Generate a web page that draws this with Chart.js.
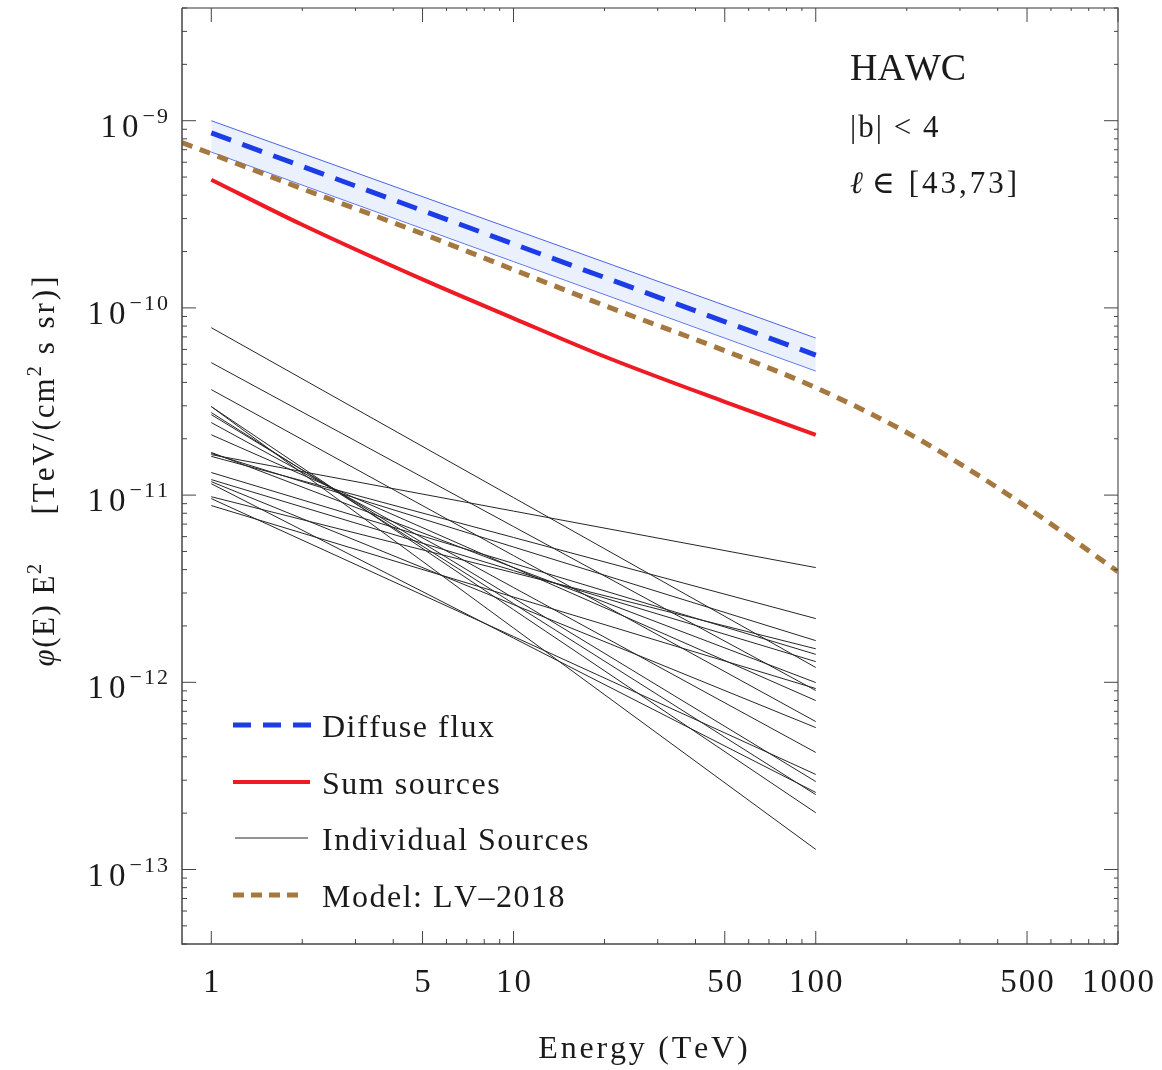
<!DOCTYPE html>
<html lang="en">
<head>
    <meta charset="UTF-8">
    <title>HAWC diffuse flux vs sources</title>
    <script src="https://cdn.jsdelivr.net/npm/chart.js"></script>
    <style>
        body {
            margin: 0;
            background: #ffffff;
            overflow: hidden;
        }
        .chart-wrapper {
            width: 1162px;
            height: 1070px;
        }
    </style>
</head>
<body>
<div class="chart-wrapper">
    <canvas id="fluxChart"></canvas>
</div>
<script>
// energies in TeV, fluxes are E^2 phi(E) in TeV/(cm^2 s sr)
const diffuseEnergy = [1, 100];
const diffuseFlux = [8.6e-10, 5.6e-11];
const diffuseUpper = [1.0e-9, 6.9e-11];
const diffuseLower = [6.8e-10, 4.6e-11];

const sumEnergy = [1, 2, 5, 10, 20, 50, 100];
const sumFlux = [4.84e-10, 2.78e-10, 1.42e-10, 8.8e-11, 5.5e-11, 3.15e-11, 2.1e-11];

const modelEnergy = [0.8, 1, 2, 5, 10, 20, 50, 100, 200, 300, 500, 1000];
const modelFlux = [7.63e-10, 6.66e-10, 4.33e-10, 2.49e-10, 1.6e-10, 1.03e-10, 5.91e-11, 3.75e-11, 2.16e-11, 1.47e-11, 8.6e-12, 3.9e-12];

// individual sources: power laws from 1 TeV to 100 TeV
const sourceEnergy = [1, 100];
const sourceFlux1TeV = [
    7.84e-11, 5.10e-11, 3.66e-11, 2.97e-11, 2.97e-11, 2.76e-11, 2.69e-11, 2.44e-11, 2.10e-11, 1.69e-11,
    1.67e-11, 1.645e-11, 1.61e-11, 1.32e-11, 1.21e-11, 1.18e-11, 1.15e-11, 9.8e-12, 9.58e-12, 8.79e-12
];
const sourceFlux100TeV = [
    1.20e-12, 9.04e-13, 6.17e-13, 1.28e-13, 2.01e-13, 2.51e-13, 2.95e-13, 4.22e-13, 7.99e-13, 9.97e-13,
    1.67e-12, 4.10e-12, 2.19e-12, 1.41e-12, 1.29e-12, 5.73e-13, 2.58e-13, 1.51e-12, 3.22e-13, 9.26e-13
];

const xTickLabels = [1, 5, 10, 50, 100, 500, 1000];
const yTickExponents = [-9, -10, -11, -12, -13];

const legendItems = ['Diffuse flux', 'Sum sources', 'Individual Sources', 'Model: LV\u20132018'];

const BLUE = '#1c3ce6';
const RED = '#ee1b24';
const BROWN = '#a57840';
const SERIF = '"Liberation Serif", "DejaVu Serif", serif';

function toPoints(xs, ys) {
    return xs.map((x, i) => ({ x: x, y: ys[i] }));
}

const datasets = [
    {
        label: 'Model: LV-2018',
        data: toPoints(modelEnergy, modelFlux),
        borderColor: BROWN,
        borderWidth: 5,
        borderDash: [11, 8],
        cubicInterpolationMode: 'monotone',
        order: 0
    },
    {
        label: 'Diffuse flux',
        data: toPoints(diffuseEnergy, diffuseFlux),
        borderColor: BLUE,
        borderWidth: 5,
        borderDash: [21, 12],
        order: 1
    },
    {
        label: 'Diffuse upper',
        data: toPoints(diffuseEnergy, diffuseUpper),
        borderColor: '#4a62e8',
        borderWidth: 1,
        backgroundColor: 'rgba(205,218,250,0.4)',
        fill: '+1',
        order: 2
    },
    {
        label: 'Diffuse lower',
        data: toPoints(diffuseEnergy, diffuseLower),
        borderColor: '#4a62e8',
        borderWidth: 1,
        order: 3
    },
    {
        label: 'Sum sources',
        data: toPoints(sumEnergy, sumFlux),
        borderColor: RED,
        borderWidth: 4,
        cubicInterpolationMode: 'monotone',
        order: 4
    }
];

sourceFlux1TeV.forEach((f, i) => {
    datasets.push({
        label: 'source ' + (i + 1),
        data: toPoints(sourceEnergy, [f, sourceFlux100TeV[i]]),
        borderColor: '#262626',
        borderWidth: 1,
        order: 5 + i
    });
});

// draw text one glyph at a time so the wide spacing can be set
function spacedText(ctx, str, x, y, spacing, align) {
    const chars = Array.from(str);
    const widths = chars.map(c => ctx.measureText(c).width);
    const total = widths.reduce((a, b) => a + b, 0) + spacing * (chars.length - 1);
    let cx = x;
    if (align === 'center') cx = x - total / 2;
    if (align === 'right') cx = x - total;
    ctx.textAlign = 'left';
    chars.forEach((c, i) => {
        ctx.fillText(c, cx, y);
        cx += widths[i] + spacing;
    });
    return total;
}

function runsWidth(ctx, runs) {
    let w = 0;
    runs.forEach(r => {
        ctx.font = r.font;
        Array.from(r.text).forEach(c => { w += ctx.measureText(c).width + r.spacing; });
        w += r.gap || 0;
    });
    return w;
}

function drawRuns(ctx, runs, x, y) {
    let cx = x;
    runs.forEach(r => {
        ctx.font = r.font;
        Array.from(r.text).forEach(c => {
            ctx.textAlign = 'left';
            ctx.fillText(c, cx, y - (r.rise || 0));
            cx += ctx.measureText(c).width + r.spacing;
        });
        cx += r.gap || 0;
    });
}

const framePlugin = {
    id: 'frame',
    afterDraw(chart) {
        const ctx = chart.ctx;
        const area = chart.chartArea;
        const xs = chart.scales.x;
        const ys = chart.scales.y;
        ctx.save();

        // frame: left and bottom darker than top and right
        ctx.lineWidth = 1.5;
        ctx.strokeStyle = '#777777';
        ctx.beginPath();
        ctx.moveTo(area.left, area.top);
        ctx.lineTo(area.right, area.top);
        ctx.lineTo(area.right, area.bottom);
        ctx.stroke();
        ctx.strokeStyle = '#444444';
        ctx.beginPath();
        ctx.moveTo(area.left, area.top);
        ctx.lineTo(area.left, area.bottom);
        ctx.lineTo(area.right, area.bottom);
        ctx.stroke();

        // x ticks, bottom and top, pointing inwards
        ctx.lineWidth = 1;
        ctx.strokeStyle = '#444444';
        [1, 10, 100, 1000].forEach(d => {
            for (let m = 1; m <= 9; m++) {
                const v = m * d;
                if (v > 1000) break;
                const px = xs.getPixelForValue(v);
                const major = (m === 1 || m === 5);
                const lb = major ? 13 : 5;
                const lt = major ? 14 : 3;
                ctx.beginPath();
                ctx.moveTo(px, area.bottom);
                ctx.lineTo(px, area.bottom - lb);
                ctx.moveTo(px, area.top);
                ctx.lineTo(px, area.top + lt);
                ctx.stroke();
            }
        });

        // y ticks, left and right
        for (let e = -14; e <= -9; e++) {
            for (let m = 1; m <= 9; m++) {
                const v = m * Math.pow(10, e);
                if (v < ys.min || v > ys.max) continue;
                const py = ys.getPixelForValue(v);
                const len = m === 1 ? 14 : 5;
                ctx.beginPath();
                ctx.moveTo(area.left, py);
                ctx.lineTo(area.left + len, py);
                ctx.moveTo(area.right, py);
                ctx.lineTo(area.right - (m === 1 ? 14 : 4), py);
                ctx.stroke();
            }
        }

        ctx.fillStyle = '#1a1a1a';
        ctx.textBaseline = 'alphabetic';

        // x tick labels
        ctx.font = '33px ' + SERIF;
        xTickLabels.forEach(v => {
            spacedText(ctx, String(v), xs.getPixelForValue(v), 992, 2, 'center');
        });

        // y tick labels as powers of ten
        yTickExponents.forEach(e => {
            const py = ys.getPixelForValue(Math.pow(10, e));
            ctx.font = '22px ' + SERIF;
            const supW = spacedText(ctx, '\u2212' + String(-e), 168, py + 2, 2, 'right');
            ctx.font = '33px ' + SERIF;
            spacedText(ctx, '10', 168 - supW - 4, py + 16, 5, 'right');
        });

        // x axis title
        ctx.font = '32px ' + SERIF;
        spacedText(ctx, 'Energy (TeV)', 643, 1058, 2.8, 'center');

        // y axis title, rotated
        const main = '31px ' + SERIF;
        const sup = '20px ' + SERIF;
        const runs = [
            { text: '\u03c6', font: 'italic 31px ' + SERIF, spacing: 1.5 },
            { text: '(E) E', font: main, spacing: 1.5 },
            { text: '2', font: sup, spacing: 1.5, rise: 13, gap: 48 },
            { text: '[TeV/(cm', font: main, spacing: 2 },
            { text: '2', font: sup, spacing: 2, rise: 13, gap: 10 },
            { text: 's sr)]', font: main, spacing: 3 }
        ];
        const tw = runsWidth(ctx, runs);
        ctx.save();
        ctx.translate(54, 470);
        ctx.rotate(-Math.PI / 2);
        drawRuns(ctx, runs, -tw / 2, 0);
        ctx.restore();

        // region label
        ctx.font = '38px ' + SERIF;
        spacedText(ctx, 'HAWC', 850, 80, 0, 'left');
        ctx.font = '31px ' + SERIF;
        spacedText(ctx, '|b| < 4', 850, 137, 2, 'left');
        ctx.font = 'italic 31px ' + SERIF;
        ctx.fillText('\u2113', 850, 193);
        ctx.font = '31px ' + SERIF;
        spacedText(ctx, '\u2208 [43,73]', 872, 193, 3, 'left');

        // legend
        const legendY = [725, 782, 838, 895];
        ctx.lineCap = 'butt';
        ctx.strokeStyle = BLUE;
        ctx.lineWidth = 5;
        ctx.setLineDash([18, 12]);
        ctx.beginPath(); ctx.moveTo(233, legendY[0]); ctx.lineTo(311, legendY[0]); ctx.stroke();
        ctx.strokeStyle = RED;
        ctx.lineWidth = 4;
        ctx.setLineDash([]);
        ctx.beginPath(); ctx.moveTo(233, legendY[1]); ctx.lineTo(310, legendY[1]); ctx.stroke();
        ctx.strokeStyle = '#262626';
        ctx.lineWidth = 1;
        ctx.beginPath(); ctx.moveTo(235, legendY[2]); ctx.lineTo(308, legendY[2]); ctx.stroke();
        ctx.strokeStyle = BROWN;
        ctx.lineWidth = 5;
        ctx.setLineDash([11, 7]);
        ctx.beginPath(); ctx.moveTo(233, legendY[3]); ctx.lineTo(300, legendY[3]); ctx.stroke();
        ctx.setLineDash([]);

        ctx.fillStyle = '#1a1a1a';
        ctx.font = '32px ' + SERIF;
        legendItems.forEach((t, i) => {
            spacedText(ctx, t, 322, legendY[i] + 12, 1.5, 'left');
        });

        ctx.restore();
    }
};

new Chart(document.getElementById('fluxChart'), {
    type: 'line',
    data: { datasets: datasets },
    options: {
        responsive: true,
        maintainAspectRatio: false,
        animation: false,
        events: [],
        layout: {
            padding: { top: 8, right: 44, left: 0, bottom: 0 }
        },
        elements: {
            point: { radius: 0 },
            line: { fill: false, borderCapStyle: 'butt' }
        },
        scales: {
            x: {
                type: 'logarithmic',
                min: 0.8,
                max: 1000,
                grid: { display: false },
                border: { display: false },
                ticks: { display: false },
                afterFit: scale => { scale.height = 126; }
            },
            y: {
                type: 'logarithmic',
                min: 4e-14,
                max: 4e-9,
                grid: { display: false },
                border: { display: false },
                ticks: { display: false },
                afterFit: scale => { scale.width = 182; }
            }
        },
        plugins: {
            legend: { display: false },
            tooltip: { enabled: false }
        }
    },
    plugins: [framePlugin]
});
</script>
</body>
</html>
